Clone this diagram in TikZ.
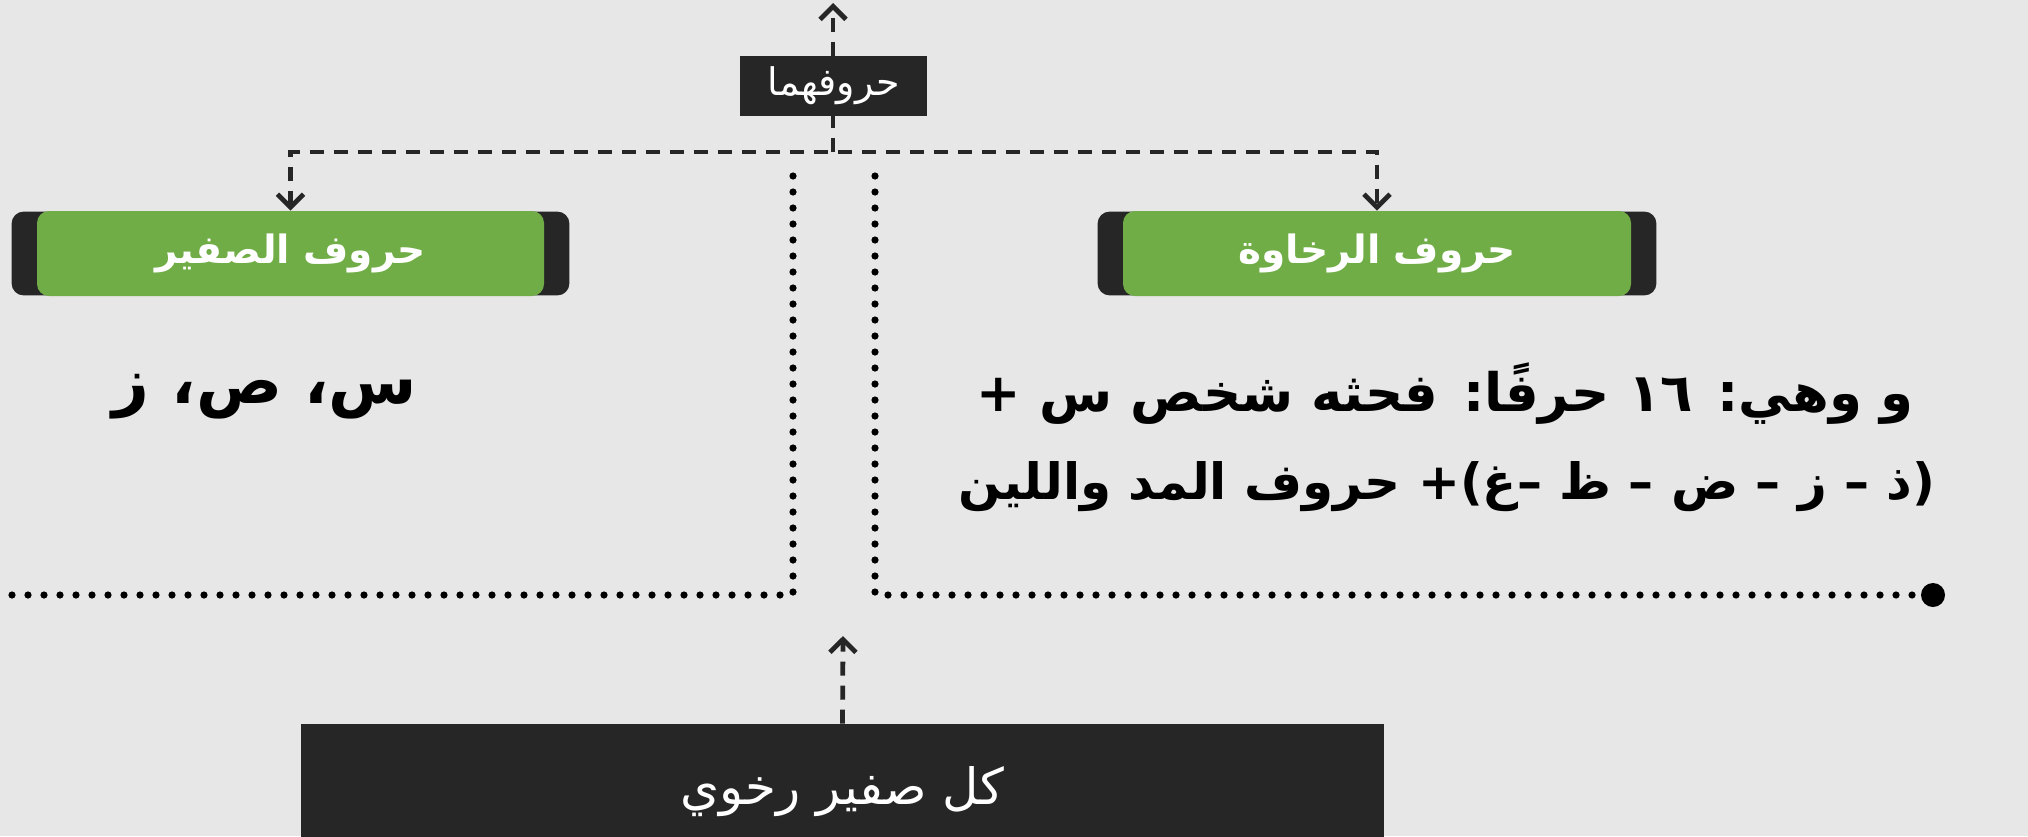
\documentclass[tikz,border=0pt]{standalone}
\usepackage{fontspec}
\usetikzlibrary{arrows.meta,backgrounds}
\TeXXeTstate=1
\newfontfamily\arabicfont[Script=Arabic,BoldFont={DejaVu Sans Bold}]{DejaVu Sans}
\newcommand\artxt[1]{\arabicfont\beginR #1\endR}
\definecolor{dark}{HTML}{262626}
\definecolor{grn}{HTML}{70AD47}
\definecolor{bgc}{HTML}{E7E7E7}
\begin{document}
\begin{tikzpicture}[x=0.5pt,y=-0.5pt,
  dashconn/.style={draw=dark, line width=2.4pt, dash pattern=on 7pt off 5pt},
  tipd/.style={-{Straight Barb[length=6.5pt,width=13pt]}},
  tipdd/.style={{Straight Barb[length=6.5pt,width=13pt]}-{Straight Barb[length=6.5pt,width=13pt]}},
  dotconn/.style={draw=black, line width=3.6pt, line cap=round, dash pattern=on 0pt off 8pt},
  darkrect/.style={fill=dark, inner sep=0pt, text=white},
  darkback/.style={fill=dark, rounded corners=6pt},
  grnbox/.style={fill=grn, rounded corners=6pt, inner sep=0pt, text=white},
]
\useasboundingbox (0,0) rectangle (2028,836);

% dotted connectors
\coordinate (dl1) at (793,176);
\coordinate (dl2) at (793,595);
\coordinate (dl3) at (0,595);
\coordinate (dr1) at (875,176);
\coordinate (dr2) at (875,595);
\coordinate (dr3) at (1933,595);
\draw[dotconn] (dl1) -- (dl2) -- (dl3);
\draw[dotconn] (dr1) -- (dr2) -- (dr3);
\fill[black] (dr3) circle (6pt);

% top label and arrow
\coordinate (jn) at (833,152);
\coordinate (up) at (833,3);
\draw[dashconn,tipd] (jn) -- (up);
\node[darkrect, minimum width=93.5pt, minimum height=30pt] (hm) at (833.5,86)
  {\fontsize{19}{22}\selectfont\artxt{حروفهما}};

% category boxes
\node[grnbox, minimum width=253.5pt, minimum height=42.5pt] (sf) at (290.5,253.5)
  {\fontsize{19.5}{22}\selectfont\bfseries\artxt{حروف الصفير}};
\node[grnbox, minimum width=254pt, minimum height=42.5pt] (rk) at (1377,253.5)
  {\fontsize{19.5}{22}\selectfont\bfseries\artxt{حروف الرخاوة}};

\draw[dashconn,tipdd] (sf.north) |- (jn) -| (rk.north);

% texts
\node (szz) at (265,397) {\fontsize{32}{38}\selectfont\bfseries\artxt{س، ص، ز}};
\node (rk1) at (1445,394) {\fontsize{26.5}{30}\selectfont\bfseries\artxt{و وهي: ١٦ حرفًا: فحثه شخص س +}};
\node (rk2) at (1447,487) {\fontsize{25}{30}\selectfont\bfseries\artxt{(ذ – ز – ض – ظ –غ)+ حروف المد واللين}};

% bottom box
\node[darkrect, minimum width=541.5pt, minimum height=68pt] (kl) at (842.5,792)
  {\fontsize{25}{30}\selectfont\artxt{كل صفير رخوي}};
\coordinate (bt) at (843,636);
\draw[dashconn,tipd] (kl.north) -- (bt);

\begin{scope}[on background layer]
  \fill[bgc] (0,0) rectangle (2028,836);
  \fill[darkback] ([xshift=-12.5pt,yshift=0.5pt]sf.south west) rectangle ([xshift=12.5pt,yshift=-0.5pt]sf.north east);
  \fill[darkback] ([xshift=-12.5pt,yshift=0.5pt]rk.south west) rectangle ([xshift=12.5pt,yshift=-0.5pt]rk.north east);
\end{scope}
\end{tikzpicture}
\end{document}
